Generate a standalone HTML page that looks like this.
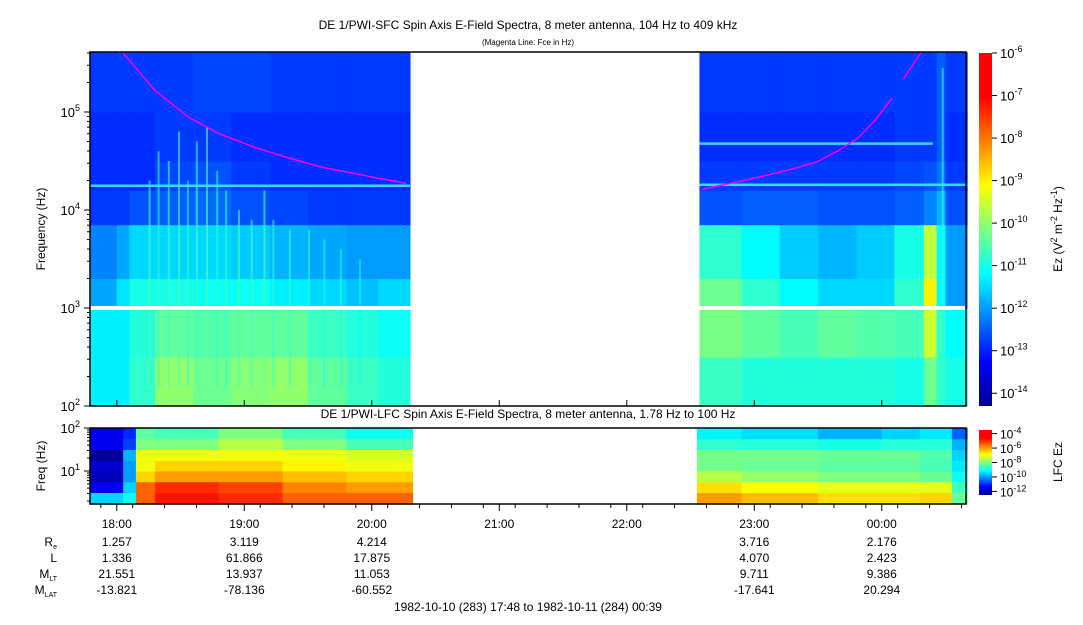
<!DOCTYPE html>
<html><head><meta charset="utf-8"><style>
body{margin:0;background:#fff;}
svg text{font-family:"Liberation Sans",Arial,sans-serif;fill:#000;}
</style></head><body>
<svg id="chart" width="1083" height="620" viewBox="0 0 1083 620" xmlns="http://www.w3.org/2000/svg">
<defs>
<linearGradient id="jet" x1="0" y1="1" x2="0" y2="0">
<stop offset="0" stop-color="#00008f"/><stop offset="0.125" stop-color="#0000ff"/><stop offset="0.375" stop-color="#00ffff"/><stop offset="0.625" stop-color="#ffff00"/><stop offset="0.875" stop-color="#ff0000"/><stop offset="1" stop-color="#ff0000"/>
</linearGradient>
</defs>
<text x="528" y="29" font-size="12" text-anchor="middle">DE 1/PWI-SFC  Spin Axis E-Field Spectra, 8 meter antenna, 104 Hz to 409 kHz</text>
<text x="528" y="45" font-size="8" text-anchor="middle">(Magenta Line: Fce in Hz)</text>
<text x="528" y="418" font-size="12" text-anchor="middle">DE 1/PWI-LFC  Spin Axis E-Field Spectra, 8 meter antenna, 1.78 Hz to 100 Hz</text>
<g id="topCells"></g>
<g id="botCells"></g>
<g id="axes"></g>
<rect x="979" y="53" width="13" height="353" fill="url(#jet)"/>
<rect x="979" y="430" width="13" height="65" fill="url(#jet)"/>
<text transform="translate(1062,229) rotate(-90)" font-size="12" text-anchor="middle">Ez (V<tspan dy="-5" font-size="9">2</tspan><tspan dy="5"> m</tspan><tspan dy="-5" font-size="9">-2</tspan><tspan dy="5"> Hz</tspan><tspan dy="-5" font-size="9">-1</tspan><tspan dy="5">)</tspan></text>
<text transform="translate(1062,462) rotate(-90)" font-size="12" text-anchor="middle">LFC Ez</text>
<text transform="translate(45,229) rotate(-90)" font-size="12" text-anchor="middle">Frequency (Hz)</text>
<text transform="translate(45,466) rotate(-90)" font-size="12" text-anchor="middle">Freq (Hz)</text>
<g font-size="12" text-anchor="end">
<text x="57" y="546">R<tspan font-size="7" dy="3">e</tspan></text>
<text x="57" y="562">L</text>
<text x="57" y="578">M<tspan font-size="7" dy="3">LT</tspan></text>
<text x="57" y="594">M<tspan font-size="7" dy="3">LAT</tspan></text>
</g>
<g id="eph" font-size="12" text-anchor="middle"></g>
<text x="528" y="611" font-size="12" text-anchor="middle">1982-10-10 (283) 17:48 to 1982-10-11 (284) 00:39</text>
</svg>
<script>
// ---- data ----
const preTimes=[17.79,18.0,18.1,18.3,18.6,18.9,19.2,19.5,19.8,20.05,20.3];
const postTimes=[22.57,22.9,23.2,23.5,23.8,24.1,24.33,24.43,24.5,24.67];
const topBands=[2,2.5,3,3.3,3.85,4.2,4.5,5,5.61];
const preVals=[
[-11.3,-11.3,-10.8,-10,-10.3,-10.1,-10,-10.4,-10.7,-10.9],
[-11.3,-11.3,-10.9,-10.4,-10.5,-10.4,-10.4,-10.7,-10.9,-11.1],
[-11.9,-11.4,-11,-11,-11.1,-11.1,-11.3,-11.5,-11.7,-11.5],
[-12.2,-11.9,-11.5,-11.5,-11.5,-11.6,-11.8,-11.9,-12,-12],
[-12.8,-12.8,-12.6,-12.5,-12.4,-12.6,-12.7,-12.8,-12.8,-12.8],
[-12.9,-12.9,-12.9,-12.7,-12.6,-12.8,-12.9,-12.9,-12.9,-12.9],
[-12.9,-12.9,-12.9,-12.8,-12.8,-12.9,-12.9,-12.9,-12.9,-12.9],
[-12.8,-12.8,-12.8,-12.8,-12.7,-12.7,-12.8,-12.8,-12.8,-12.8]];
const postVals=[
[-10.7,-10.9,-10.9,-10.9,-10.9,-11,-10.3,-10.8,-11],
[-10.2,-10.4,-10.6,-10.4,-10.5,-10.6,-9.5,-10.8,-11.2],
[-10.3,-10.8,-11.2,-11.5,-11.5,-10.8,-9,-11.2,-12],
[-10.8,-11.2,-11.6,-11.8,-11.6,-11,-9.6,-11.2,-12],
[-12.6,-12.5,-12.5,-12.6,-12.6,-12.5,-12.2,-11.8,-12.6],
[-12.8,-12.8,-12.8,-12.8,-12.8,-12.7,-12.6,-12.3,-12.8],
[-12.9,-12.9,-12.9,-12.9,-12.9,-12.8,-12.8,-12.5,-12.9],
[-12.8,-12.8,-12.8,-12.8,-12.8,-12.8,-12.8,-12.5,-12.8]];
const streakTimes=[18.25,18.32,18.4,18.48,18.55,18.62,18.7,18.78,18.85,18.95,19.05,19.15,19.22,19.35,19.5,19.62,19.75,19.9,24.47];
const streakTops=[4.3,4.6,4.5,4.8,4.3,4.7,4.85,4.4,4.2,4.0,3.9,4.2,3.9,3.8,3.8,3.7,3.6,3.5,5.45];
const streakVals=[-10.5,-10.8,-10.6,-10.5,-10.8,-10.6,-10.4,-10.8,-10.7,-10.5,-10.6,-10.4,-10.8,-10.7,-10.8,-11,-11,-11.2,-10.8];
const fcePreT=[18.05,18.3,18.56,18.8,19.08,19.35,19.6,19.95,20.27];
const fcePreF=[5.6,5.22,4.95,4.78,4.64,4.53,4.44,4.35,4.27];
const fcePostT=[22.59,23.02,23.3,23.49,23.65,23.81,23.95,24.08];
const fcePostF=[4.21,4.33,4.42,4.49,4.6,4.73,4.92,5.14];
const fcePost2T=[24.17,24.31];
const fcePost2F=[5.34,5.61];
const botPreTimes=[17.79,18.05,18.15,18.3,18.8,19.3,19.8,20.32];
const botPostTimes=[22.55,22.9,23.5,24.0,24.3,24.55,24.67];
const botBands=[0.23,0.5,0.75,1.0,1.25,1.5,1.75,2.0];
const botPreVals=[
[-9.5,-9,-5.5,-4.8,-5,-5.5,-5.5],
[-11.5,-9.5,-5.5,-5,-5.2,-5.8,-6],
[-12,-10,-6.5,-6,-6,-6.3,-6.5],
[-11.8,-10,-7,-6.5,-6.5,-6.8,-7],
[-12.3,-9.8,-7,-7,-7,-7,-7.2],
[-11.5,-10.8,-8,-8,-7.5,-8,-8.5],
[-11.5,-11,-8.3,-8.5,-8,-8.5,-9]];
const botPostVals=[
[-6,-6.3,-6.6,-6.6,-6.5,-8.2],
[-6.6,-6.9,-7.1,-7.1,-7.1,-8.6],
[-7.5,-7.8,-8,-8,-8.2,-9],
[-8.1,-8.2,-8.3,-8.3,-8.5,-9.3],
[-8.1,-8.1,-8.2,-8.2,-8.4,-9.5],
[-8.7,-8.8,-8.9,-8.8,-8.8,-9.8],
[-9.2,-9.4,-9.8,-9.5,-9.3,-10.5]];
const timeTicks=[18,19,20,21,22,23,24];
const timeLabels=["18:00","19:00","20:00","21:00","22:00","23:00","00:00"];
const ephTimes=[18,19,20,23,24];
const ephRe=["1.257","3.119","4.214","3.716","2.176"];
const ephL=["1.336","61.866","17.875","4.070","2.423"];
const ephMLT=["21.551","13.937","11.053","9.711","9.386"];
const ephMLAT=["-13.821","-78.136","-60.552","-17.641","20.294"];
const topCbTicks=[-6,-7,-8,-9,-10,-11,-12,-13,-14];
const botCbTicks=[-4,-6,-8,-10,-12];

// ---- scales ----
const NS="http://www.w3.org/2000/svg";
const X=t=>90+(t-17.79)*127.5;
const YT=l=>406-(l-2)*98;
const YB=l=>428+(2-l)*43;
const CT=v=>(v+14.3)/8.3, CB=v=>(v+12.5)/9;
function jet(n){n=Math.max(0,Math.min(1,n));const c=k=>Math.round(255*Math.max(0,Math.min(1,1.5-Math.abs(4*n-k))));return `rgb(${c(3)},${c(2)},${c(1)})`;}
function el(tag,attrs,parent){const e=document.createElementNS(NS,tag);for(const k in attrs)e.setAttribute(k,attrs[k]);parent.appendChild(e);return e;}
const topG=document.getElementById('topCells'),botG=document.getElementById('botCells'),axG=document.getElementById('axes'),ephG=document.getElementById('eph');

function grid(g,times,bands,vals,Y,C,name){
 for(let b=0;b<bands.length-1;b++)for(let i=0;i<times.length-1;i++){
  const x0=X(times[i]),x1=X(times[i+1]),y0=Y(bands[b+1]),y1=Y(bands[b]);
  const r=el('rect',{x:x0,y:y0,width:x1-x0+0.5,height:y1-y0+0.5,fill:jet(C(vals[b][i]))},g);
  
  
 }
}
grid(topG,preTimes,topBands,preVals,YT,CT,'sfc-cell');
grid(topG,postTimes,topBands,postVals,YT,CT,'sfc-cell');
for(let i=0;i<streakTimes.length;i++){
 const r=el('rect',{x:X(streakTimes[i]),y:YT(streakTops[i]),width:2,height:YT(2.2)-YT(streakTops[i]),fill:jet(CT(streakVals[i])),opacity:0.6},topG);
 
 
}
[[4.25,preTimes[0],preTimes[preTimes.length-1]],[4.26,postTimes[0],postTimes[postTimes.length-1]],[4.68,postTimes[0],24.4]].forEach(a=>{
 const r=el('rect',{x:X(a[1]),y:YT(a[0])-1,width:X(a[2])-X(a[1]),height:2.5,fill:'#33ddff'},topG);
 
 
});
const ws=el('rect',{x:90,y:YT(3)-2,width:876,height:4,fill:'#fff'},topG);


function line(T,F,name){
 const p=T.map((t,i)=>X(t)+','+YT(F[i])).join(' ');
 const l=el('polyline',{points:p,fill:'none',stroke:'#ff00ff','stroke-width':1.5},topG);
 
 
}
line(fcePreT,fcePreF,'fce-line-pre');line(fcePostT,fcePostF,'fce-line-post');line(fcePost2T,fcePost2F,'fce-line-post-upper');
grid(botG,botPreTimes,botBands,botPreVals,YB,CB,'lfc-cell');
grid(botG,botPostTimes,botBands,botPostVals,YB,CB,'lfc-cell');

const f1=el('rect',{x:90,y:52,width:876,height:354,fill:'none',stroke:'#000','stroke-width':1.5},axG);

const f2=el('rect',{x:90,y:428,width:876,height:76,fill:'none',stroke:'#000','stroke-width':1.5},axG);

for(let d=2;d<=5;d++){
 const t=el('text',{x:80,y:YT(d)+5,'font-size':13,'text-anchor':'end'},axG);
 
 t.innerHTML='10<tspan dy="-6" font-size="9">'+d+'</tspan>';
 for(let m=1;m<10;m++){const l=d+Math.log10(m);if(l>5.61)break;el('line',{x1:90,x2:90-(m==1?6:3),y1:YT(l),y2:YT(l),stroke:'#000'},axG);}
}
for(let d=1;d<=2;d++){
 const t=el('text',{x:80,y:YB(d)+5,'font-size':13,'text-anchor':'end'},axG);
 
 t.innerHTML='10<tspan dy="-6" font-size="9">'+d+'</tspan>';
}
for(let d=0;d<2;d++)for(let m=1;m<10;m++){const l=d+Math.log10(m);if(l<0.23)continue;el('line',{x1:90,x2:90-(m==1?6:3),y1:YB(l),y2:YB(l),stroke:'#000'},axG);}
el('line',{x1:90,x2:84,y1:YB(2),y2:YB(2),stroke:'#000'},axG);
timeTicks.forEach((t,i)=>{
 el('line',{x1:X(t),x2:X(t),y1:504,y2:511,stroke:'#000'},axG);
 el('line',{x1:X(t),x2:X(t),y1:406,y2:400,stroke:'#000'},axG);
 const tx=el('text',{x:X(t),y:528,'font-size':12,'text-anchor':'middle'},axG);
 
 tx.textContent=timeLabels[i];
});
for(let t=17.875;t<24.7;t+=0.25){if(Math.abs(t-Math.round(t))<0.01)continue;el('line',{x1:X(t),x2:X(t),y1:504,y2:508,stroke:'#000'},axG);}
[ephRe,ephL,ephMLT,ephMLAT].forEach((arr,r)=>arr.forEach((v,i)=>{
 const tx=el('text',{x:X(ephTimes[i]),y:546+r*16},ephG);
 
 tx.textContent=v;
}));
topCbTicks.forEach(v=>{
 const y=406-CT(v)*353;
 el('line',{x1:992,x2:997,y1:y,y2:y,stroke:'#000'},axG);
 const t=el('text',{x:1000,y:y+5,'font-size':13},axG);
 
 t.innerHTML='10<tspan dy="-6" font-size="9">'+v+'</tspan>';
});
botCbTicks.forEach(v=>{
 const y=495-CB(v)*65;
 el('line',{x1:992,x2:997,y1:y,y2:y,stroke:'#000'},axG);
 const t=el('text',{x:1000,y:y+5,'font-size':12},axG);
 
 t.innerHTML='10<tspan dy="-5" font-size="9">'+v+'</tspan>';
});
</script>
</body></html>
